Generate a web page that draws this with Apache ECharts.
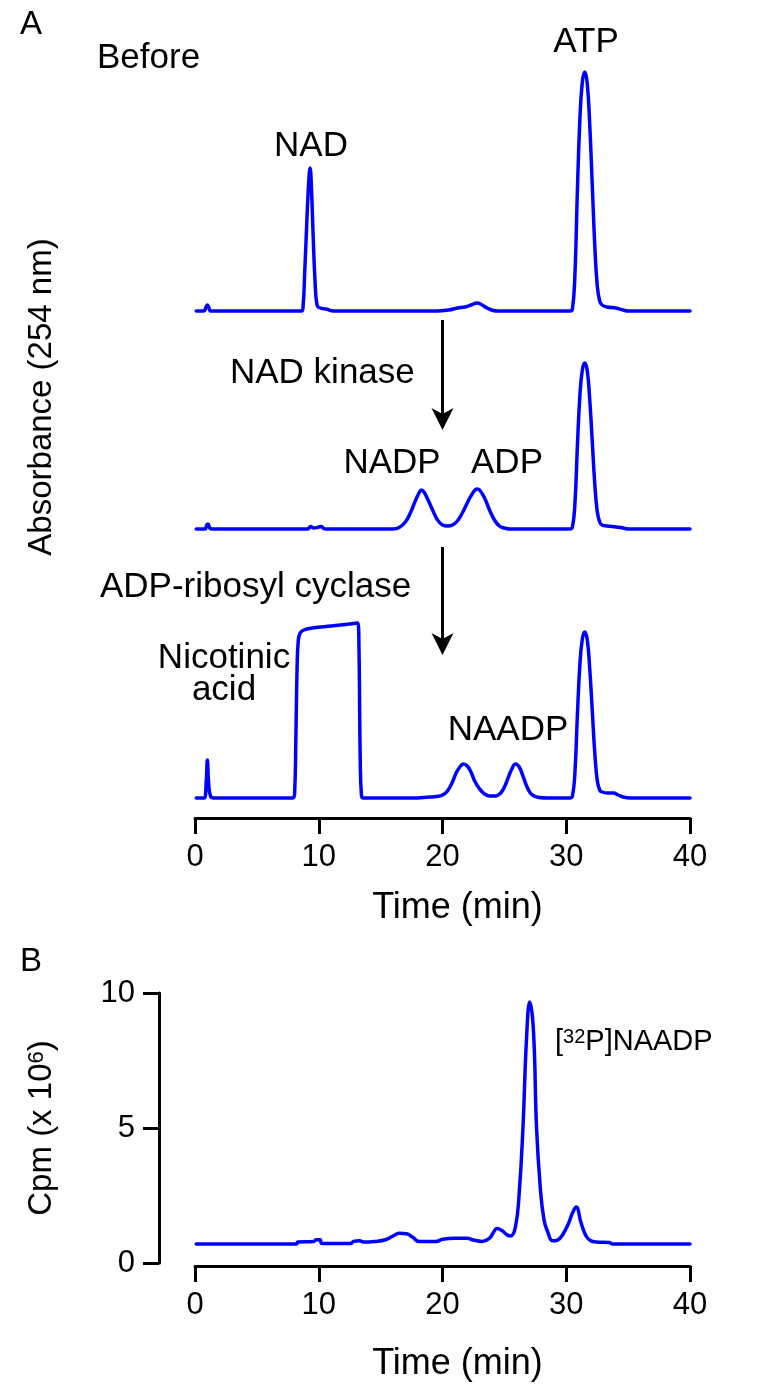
<!DOCTYPE html>
<html>
<head>
<meta charset="utf-8">
<script src="https://cdn.jsdelivr.net/npm/echarts@6/dist/echarts.min.js"></script>
<style>
html,body{margin:0;padding:0;background:#fff;}
#chart{width:768px;height:1392px;}
</style>
</head>
<body>
<div id="chart"></div>
<script>
// ---- Data (time in min, relative absorbance / Cpm x 10^6) ----
const xTicks = [0, 10, 20, 30, 40];
const cpmTicks = [0, 5, 10];

const beforeTrace = [
  [0.1,0],[0.7,0],[0.9,4],[1.0,6],[1.1,4],[1.3,0],
  [8.6,0],[8.73,4],[8.87,40],[9.0,78],[9.15,120],[9.3,143],[9.42,120],[9.54,78],[9.7,30],[9.86,6],[10.1,3],[10.6,2],[11.2,0],
  [19.5,0],[20.5,1],[21.2,3],[21.8,4],[22.3,6],[22.8,8],[23.2,6],[23.6,3],[24.1,0.5],[24.5,0],
  [30.3,0],[30.5,2],[30.7,36],[30.9,120],[31.1,191],[31.3,229],[31.5,239],[31.7,227],[31.9,186],[32.1,127],[32.3,67],[32.5,26],[32.7,10],[32.9,6],[33.3,4],[34.0,3],[34.6,1],[35,0],
  [40,0]
];

const kinaseTrace = [
  [0.1,0],[0.8,0],[0.95,4],[1.05,5],[1.2,1],[1.4,0],
  [9.1,0],[9.35,2.5],[9.6,1],[9.9,1.5],[10.2,2.5],[10.5,0],
  [16.0,0],[16.5,1.5],[17.0,7],[17.4,16],[17.8,28],[18.1,36],[18.3,39],[18.5,37],[18.8,30],[19.2,19],[19.6,9],[20.0,4],[20.4,3],
  [20.8,4],[21.2,8],[21.6,16],[22.0,26],[22.4,35],[22.8,40],[23.0,39],[23.4,31],[23.8,19],[24.2,9],[24.6,3],[25.0,1],[25.5,0],
  [30.3,0],[30.5,2],[30.7,25],[30.9,83],[31.1,133],[31.3,159],[31.5,166],[31.7,158],[31.9,129],[32.1,88],[32.3,46],[32.5,18],[32.7,7],[32.9,4],[33.3,3],[34.0,2],[34.6,1],[35,0],
  [40,0]
];

const cyclaseTrace = [
  [0.1,0],[0.75,0],[0.9,15],[1.0,38],[1.1,15],[1.25,2],[1.5,0],
  [7.9,0],[8.05,5],[8.15,60],[8.25,130],[8.35,158],[8.5,165],[8.8,168],[9.5,170],[11,172],[12.5,174],[13.15,175],[13.25,150],[13.35,40],[13.45,3],[13.6,0],
  [17.5,0],[19.0,1],[19.5,1.5],[20.0,3],[20.4,7],[20.8,16],[21.1,25],[21.4,31],[21.7,34],[22.0,32],[22.3,26],[22.6,17],[23.0,9],[23.4,4],[23.8,2],[24.3,2],
  [24.7,5],[25.0,11],[25.3,20],[25.6,29],[25.9,34],[26.2,31],[26.5,22],[26.8,12],[27.1,5],[27.4,2],[27.8,0.5],[28.5,0],
  [30.3,0],[30.5,2],[30.7,25],[30.9,83],[31.1,133],[31.3,159],[31.5,166],[31.7,158],[31.9,129],[32.1,88],[32.3,46],[32.5,18],[32.7,8],[32.9,6],[33.3,5],[33.8,5],[34.2,3],[34.6,1],[35.2,0],
  [40,0]
];

const cpmTrace = [
  [0.1,0.7],[8.2,0.7],[8.3,0.78],[9.6,0.8],[9.8,0.86],[10.1,0.86],[10.25,0.72],[12.6,0.72],[12.8,0.8],[13.3,0.82],[13.6,0.78],
  [14.5,0.8],[15.4,0.86],[16.0,1.0],[16.5,1.1],[17.1,1.08],[17.6,0.95],[18.1,0.8],[19.5,0.8],[20.0,0.88],[21.0,0.92],[22.0,0.92],[22.5,0.85],[23.2,0.8],
  [23.8,0.92],[24.1,1.12],[24.4,1.28],[24.8,1.2],[25.2,1.05],[25.5,1.0],[25.9,1.35],[26.2,2.6],[26.5,5.0],[26.8,8.4],[27.05,9.67],[27.35,8.6],[27.6,5.0],[27.9,2.8],[28.2,1.6],[28.5,1.15],[28.9,0.82],
  [29.3,0.85],[29.7,1.04],[30.2,1.48],[30.5,1.85],[30.8,2.07],[31.2,1.48],[31.6,1.0],[32.0,0.82],[32.4,0.78],[33.5,0.76],[33.7,0.7],[40,0.7]
];

// Arrows: [gridIndex, time, value at tail, value at tip]
const arrows = [
  [1, 20, 209, 99],
  [2, 20, 251, 143]
];

// ---- Styles ----
const FONT = '"Liberation Sans", Arial, Helvetica, sans-serif';
const BLUE = '#0000ff';
const lineStyleTrace = { color: BLUE, width: 3.5, cap: 'round', join: 'round' };

function hiddenX(gi) {
  return { gridIndex: gi, type: 'value', min: 0, max: 40, show: false };
}
function hiddenY(gi, max) {
  return { gridIndex: gi, type: 'value', min: 0, max: max, show: false };
}
function shownX(gi, offset, gap) {
  return {
    gridIndex: gi, type: 'value', min: xTicks[0], max: xTicks[xTicks.length - 1], interval: 10, offset: offset,
    name: 'Time (min)', nameLocation: 'middle', nameGap: gap,
    nameTextStyle: { fontFamily: FONT, fontSize: 36, color: '#000', padding: [0, 0, 0, 30] },
    axisLine: { show: true, onZero: false, lineStyle: { color: '#000', width: 3 } },
    axisTick: { show: true, inside: false, length: 16, lineStyle: { color: '#000', width: 3 } },
    axisLabel: { show: true, margin: 24, fontFamily: FONT, fontSize: 31, color: '#000' },
    splitLine: { show: false }
  };
}
function traceSeries(data, gi) {
  return {
    type: 'line', xAxisIndex: gi, yAxisIndex: gi, data: data,
    showSymbol: false, symbol: 'none', smooth: 0.45,
    lineStyle: lineStyleTrace, clip: false, silent: true, animation: false
  };
}

const chart = echarts.init(document.getElementById('chart'), null, { renderer: 'canvas' });

const baseGraphic = [
  { type: 'text', x: 20, y: 25, style: { text: 'A', font: '33px ' + FONT, fill: '#000', textAlign: 'left', textVerticalAlign: 'middle' } },
  { type: 'text', x: 97, y: 58, style: { text: 'Before', font: '35px ' + FONT, fill: '#000', textAlign: 'left', textVerticalAlign: 'middle' } },
  { type: 'text', x: 586, y: 42, style: { text: 'ATP', font: '35px ' + FONT, fill: '#000', textAlign: 'center', textVerticalAlign: 'middle' } },
  { type: 'text', x: 311, y: 146, style: { text: 'NAD', font: '35px ' + FONT, fill: '#000', textAlign: 'center', textVerticalAlign: 'middle' } },
  { type: 'text', x: 230, y: 373, style: { text: 'NAD kinase', font: '35px ' + FONT, fill: '#000', textAlign: 'left', textVerticalAlign: 'middle' } },
  { type: 'text', x: 392, y: 463, style: { text: 'NADP', font: '35px ' + FONT, fill: '#000', textAlign: 'center', textVerticalAlign: 'middle' } },
  { type: 'text', x: 507, y: 463, style: { text: 'ADP', font: '35px ' + FONT, fill: '#000', textAlign: 'center', textVerticalAlign: 'middle' } },
  { type: 'text', x: 100, y: 587, style: { text: 'ADP-ribosyl cyclase', font: '35px ' + FONT, fill: '#000', textAlign: 'left', textVerticalAlign: 'middle' } },
  { type: 'text', x: 224, y: 658, style: { text: 'Nicotinic', font: '35px ' + FONT, fill: '#000', textAlign: 'center', textVerticalAlign: 'middle' } },
  { type: 'text', x: 224, y: 690, style: { text: 'acid', font: '35px ' + FONT, fill: '#000', textAlign: 'center', textVerticalAlign: 'middle' } },
  { type: 'text', x: 508, y: 730, style: { text: 'NAADP', font: '35px ' + FONT, fill: '#000', textAlign: 'center', textVerticalAlign: 'middle' } },
  { type: 'text', x: 42, y: 397, rotation: Math.PI / 2, style: { text: 'Absorbance (254 nm)', font: '33px ' + FONT, fill: '#000', textAlign: 'center', textVerticalAlign: 'middle' } },
  { type: 'text', x: 20, y: 962, style: { text: 'B', font: '33px ' + FONT, fill: '#000', textAlign: 'left', textVerticalAlign: 'middle' } },
  { type: 'text', x: 42, y: 1128, rotation: Math.PI / 2, style: {
      text: 'Cpm (x 10{s|6})', fontFamily: FONT, fontSize: 33, fill: '#000', textAlign: 'center', textVerticalAlign: 'middle',
      rich: { s: { fontFamily: FONT, fontSize: 22, fill: '#000', verticalAlign: 'top', lineHeight: 33 } } } },
  { type: 'text', x: 555, y: 1042, style: {
      text: '[{s|32}P]NAADP', fontFamily: FONT, fontSize: 29, fill: '#000', textAlign: 'left', textVerticalAlign: 'middle',
      rich: { s: { fontFamily: FONT, fontSize: 20, fill: '#000', verticalAlign: 'top', lineHeight: 29 } } } }
];

const option = {
  backgroundColor: '#fff',
  animation: false,
  grid: [
    { left: 195, width: 495, top: 61, height: 250 },
    { left: 195, width: 495, top: 329, height: 200 },
    { left: 195, width: 495, top: 598, height: 200 },
    { left: 195, width: 495, top: 993, height: 270 }
  ],
  xAxis: [
    hiddenX(0), hiddenX(1), shownX(2, 20, 72), shownX(3, 3, 80)
  ],
  yAxis: [
    hiddenY(0, 250), hiddenY(1, 200), hiddenY(2, 200),
    {
      gridIndex: 3, type: 'value', min: cpmTicks[0], max: cpmTicks[cpmTicks.length - 1], interval: 5, offset: 36,
      axisLine: { show: true, onZero: false, lineStyle: { color: '#000', width: 3 } },
      axisTick: { show: true, inside: false, length: 16, lineStyle: { color: '#000', width: 3 } },
      axisLabel: { show: true, margin: 24, fontFamily: FONT, fontSize: 31, color: '#000' },
      splitLine: { show: false }
    }
  ],
  series: [
    traceSeries(beforeTrace, 0),
    traceSeries(kinaseTrace, 1),
    traceSeries(cyclaseTrace, 2),
    traceSeries(cpmTrace, 3)
  ],
  graphic: baseGraphic
};
chart.setOption(option);

// Arrows placed via the chart's own coordinate conversion
const arrowGraphic = [];
arrows.forEach(function (a) {
  const p0 = chart.convertToPixel({ gridIndex: a[0] }, [a[1], a[2]]);
  const p1 = chart.convertToPixel({ gridIndex: a[0] }, [a[1], a[3]]);
  const x = p0[0];
  const headLen = 22, headHalf = 11;
  arrowGraphic.push({
    type: 'line', silent: true,
    shape: { x1: x, y1: p0[1], x2: x, y2: p1[1] - headLen + 6 },
    style: { stroke: '#000', lineWidth: 3 }
  });
  arrowGraphic.push({
    type: 'polygon', silent: true,
    shape: { points: [[x, p1[1]], [x - headHalf, p1[1] - headLen], [x, p1[1] - headLen + 6], [x + headHalf, p1[1] - headLen]] },
    style: { fill: '#000' }
  });
});
chart.setOption({ graphic: baseGraphic.concat(arrowGraphic) });
</script>
</body>
</html>
